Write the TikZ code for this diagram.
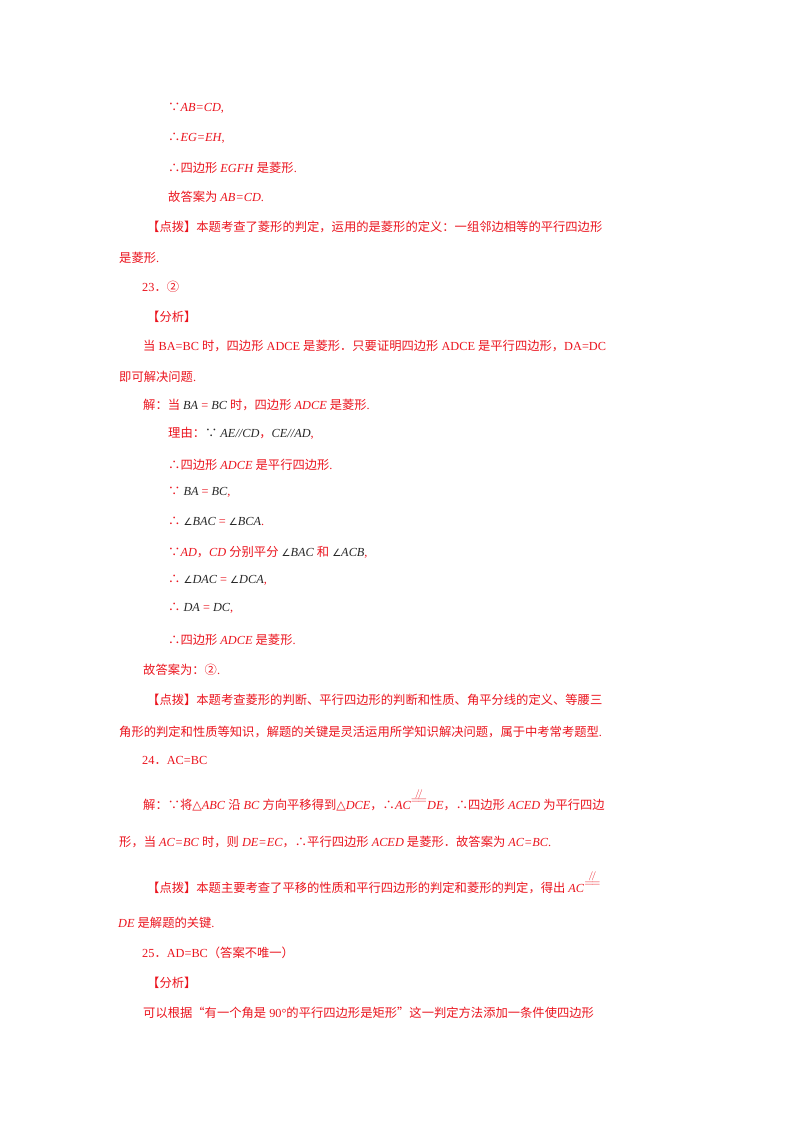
\documentclass[tikz,border=0pt]{standalone}
\usepackage{fontspec}
\setmainfont{Liberation Serif}
\newfontfamily\cjk{Noto Sans CJK SC}
\newfontfamily\sym{DejaVu Sans}
\definecolor{rd}{RGB}{235,20,30}
\definecolor{mk}{RGB}{40,40,40}
\newcommand{\z}[1]{{\cjk #1}}
\newcommand{\m}[1]{{\color{mk}\itshape #1}}
\newcommand{\an}{{\sym\fontsize{10}{12}\selectfont ∠}}
\newcommand{\pe}{\raisebox{6pt}{$\stackrel{\scriptstyle /\!/}{=\!=}$}}
\begin{document}
\begin{tikzpicture}[x=1pt,y=-1pt,
 t/.style={anchor=west,inner sep=0pt,text=rd,font=\fontsize{12.3}{14}\selectfont}]
\fill[white] (0,0) rectangle (800,1132);
\useasboundingbox (0,0) rectangle (800,1132);
\node[t] (l1) at (168,108) {\z{∵}\textit{AB=CD},};
\node[t] (l2) at (168,138) {\z{∴}\textit{EG=EH},};
\node[t] (l3) at (168,168) {\z{∴四边形} \textit{EGFH} \z{是菱形}.};
\node[t] (l4) at (168,197) {\z{故答案为} \textit{AB=CD}.};
\node[t] (l5) at (147,227) {\z{【点拨】本题考查了菱形的判定，运用的是菱形的定义：一组邻边相等的平行四边形}};
\node[t] (l6) at (119,258) {\z{是菱形}.};
\node[t] (l7) at (142,287) {23\z{．②}};
\node[t] (l8) at (147,317) {\z{【分析】}};
\node[t] (l9) at (143,346) {\z{当} BA=BC \z{时，四边形} ADCE \z{是菱形．只要证明四边形} ADCE \z{是平行四边形，}DA=DC};
\node[t] (l10) at (119,377) {\z{即可解决问题}.};
\node[t] (l11) at (143,405) {\z{解：当} \m{BA} = \m{BC} \z{时，四边形} \textit{ADCE} \z{是菱形}.};
\node[t] (l12) at (168,433) {\z{理由：}{\color{mk}\z{∵}} \m{AE//CD}\z{，}\m{CE//AD},};
\node[t] (l13) at (168,465) {\z{∴四边形} \textit{ADCE} \z{是平行四边形}.};
\node[t] (l14) at (168,492) {\z{∵} \m{BA} = \m{BC},};
\node[t] (l15) at (168,521) {\z{∴} {\color{mk}\an}\m{BAC} = {\color{mk}\an}\m{BCA}.};
\node[t] (l16) at (168,552) {\z{∵}\textit{AD}\z{，}\textit{CD} \z{分别平分} {\color{mk}\an}\m{BAC} \z{和} {\color{mk}\an}\m{ACB},};
\node[t] (l17) at (168,580) {\z{∴} {\color{mk}\an}\m{DAC} = {\color{mk}\an}\m{DCA},};
\node[t] (l18) at (168,608) {\z{∴} \m{DA} = \m{DC},};
\node[t] (l19) at (168,640) {\z{∴四边形} \textit{ADCE} \z{是菱形}.};
\node[t] (l20) at (143,670) {\z{故答案为：②}.};
\node[t] (l21) at (147,700) {\z{【点拨】本题考查菱形的判断、平行四边形的判断和性质、角平分线的定义、等腰三}};
\node[t] (l22) at (119,732) {\z{角形的判定和性质等知识，解题的关键是灵活运用所学知识解决问题，属于中考常考题型}.};
\node[t] (l23) at (142,760) {24\z{．}AC=BC};
\node[t] (l24) at (143,800) {\z{解：∵将}{\sym △}\textit{ABC} \z{沿} \textit{BC} \z{方向平移得到}{\sym △}\textit{DCE}\z{，∴}\textit{AC}\pe\textit{DE}\z{，∴四边形} \textit{ACED} \z{为平行四边}};
\node[t] (l25) at (119,842) {\z{形，当} \textit{AC=BC} \z{时，则} \textit{DE=EC}\z{，∴平行四边形} \textit{ACED} \z{是菱形．故答案为} \textit{AC=BC}.};
\node[t] (l26) at (147,882) {\z{【点拨】本题主要考查了平移的性质和平行四边形的判定和菱形的判定，得出} \textit{AC}\pe};
\node[t] (l27) at (118,923) {\textit{DE} \z{是解题的关键}.};
\node[t] (l28) at (142,953) {25\z{．}AD=BC\z{（答案不唯一）}};
\node[t] (l29) at (147,983) {\z{【分析】}};
\node[t] (l30) at (143,1013) {\z{可以根据“有一个角是} 90°\z{的平行四边形是矩形”这一判定方法添加一条件使四边形}};
\end{tikzpicture}
\end{document}
